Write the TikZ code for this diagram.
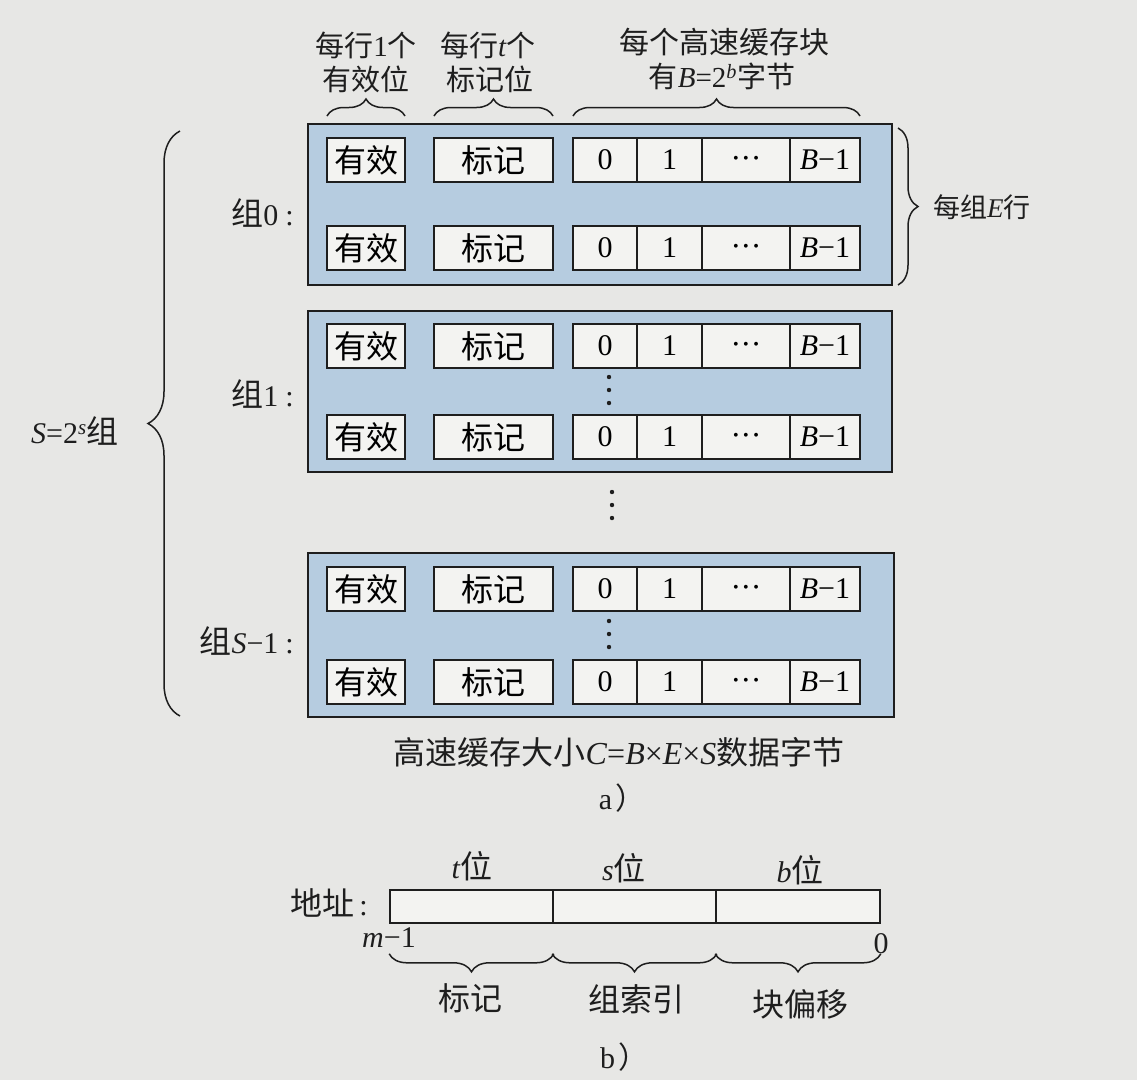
\documentclass[tikz,border=0pt]{standalone}
\usepackage{fontspec}
\setmainfont{Liberation Serif}
\newfontfamily\cjk{Noto Sans CJK SC}
\usetikzlibrary{decorations.pathreplacing,calc}
\definecolor{paper}{HTML}{E7E7E5}
\definecolor{setblue}{HTML}{B6CCE0}
\definecolor{cellfill}{HTML}{F3F3F1}
\definecolor{ink}{HTML}{1E1E1E}
\newcommand\fs{\fontsize{30}{36}\selectfont}
\newcommand\fl{\fontsize{29}{34}\selectfont}
\newcommand\fc{\fontsize{32}{36}\selectfont\cjk}
\tikzset{
  cell/.style={draw=ink, fill=cellfill, line width=1.9pt, minimum height=44pt, inner sep=0pt, font=\fs},
  acell/.style={draw=ink, fill=cellfill, line width=1.6pt, minimum height=33pt, inner sep=0pt},
  setbox/.style={draw=ink, fill=setblue, line width=2.2pt, inner sep=0pt},
  lbl/.style={font=\fs, inner sep=0pt, text=ink},
  toplbl/.style={font=\fl, inner sep=0pt, text=ink},
  brc/.style={decorate, decoration={brace, amplitude=#1}, line width=1.5pt, draw=ink},
}
\newcommand\cacheline[2]{%
  \node[cell, minimum width=78pt]  (#1v)  at (366,#2)   {\fc 有效};
  \node[cell, minimum width=119pt] (#1t)  at (493.5,#2) {\fc 标记};
  \node[cell, minimum width=64pt]  (#1c0) at (605,#2)   {0};
  \node[cell, minimum width=65pt]  (#1c1) at (669.5,#2) {1};
  \node[cell, minimum width=88pt]  (#1cd) at (746,#2)   {\fontsize{16}{16}\selectfont •\hspace{4.5pt}•\hspace{4.5pt}•};
  \node[cell, minimum width=70pt]  (#1cb) at (825,#2)   {\textit{B}−1};
}
\newcommand\threedots[2]{%
  \coordinate (#1) at (#2);
  \foreach \d in {-13,0,13} \fill[ink] ($(#1)+(0,\d)$) circle (2.2pt);
}
\begin{document}
\begin{tikzpicture}[x=1pt,y=-1pt]
\useasboundingbox (0,0) rectangle (1137,1080);
\fill[paper] (0,0) rectangle (1137,1080);

% top labels
\node[toplbl] (l1a) at (366,45) {{\cjk 每行}1{\cjk 个}};
\node[toplbl] (l1b) at (366,79) {\cjk 有效位};
\node[toplbl] (l2a) at (488,45) {{\cjk 每行}\textit{t}{\cjk 个}};
\node[toplbl] (l2b) at (490,79) {\cjk 标记位};
\node[toplbl, font=\fontsize{30}{34}\selectfont] (l3a) at (724,42) {\cjk 每个高速缓存块};
\node[toplbl] (l3b) at (722,76) {{\cjk 有}\textit{B}=2\textsuperscript{\textit{b}}{\cjk 字节}};
\draw[brc=17] (327,116) -- (405,116);
\draw[brc=17] (434,116) -- (553,116);
\draw[brc=17] (573,116) -- (860,116);

% sets
\node[setbox, minimum width=584pt, minimum height=161pt] (set0) at (600,204.5) {};
\node[setbox, minimum width=584pt, minimum height=161pt] (set1) at (600,391.5) {};
\node[setbox, minimum width=586pt, minimum height=164pt] (set2) at (601,635) {};

\cacheline{a}{160}
\cacheline{b}{248}
\cacheline{c}{346}
\cacheline{d}{437}
\cacheline{e}{589}
\cacheline{f}{682}

\threedots{dots1}{609,390}
\threedots{dotsm}{612,505}
\threedots{dots2}{609,634}

% set labels
\node[lbl, anchor=east] (g0) at (294,213) {{\fc 组}0\hspace{7pt}:};
\node[lbl, anchor=east] (g1) at (294,394) {{\fc 组}1\hspace{7pt}:};
\node[lbl, anchor=east] (g2) at (294,641) {{\fc 组}\textit{S}−1\hspace{7pt}:};

% left brace
\draw[brc=32] (180,716) -- (180,131);
\node[lbl] (S) at (75,431) {\textit{S}=2\textsuperscript{\textit{s}}{\fc 组}};

% right brace
\draw[brc=20] (898,128) -- (898,285);
\node[lbl, font=\fontsize{27}{32}\selectfont, anchor=west] (E) at (933,207) {{\cjk 每组}\textit{E}{\cjk 行}};

% caption a
\node[lbl, font=\fontsize{32}{36}\selectfont] (cap) at (619,752) {{\cjk 高速缓存大小}\textit{C}=\textit{B}×\textit{E}×\textit{S}{\cjk 数据字节}};
\node[lbl] (capa) at (622,798) {a\hspace{3pt}{\cjk ）}};

% address
\node[acell, minimum width=163pt] (at) at (471.5,906.5) {};
\node[acell, minimum width=163pt] (as) at (634.5,906.5) {};
\node[acell, minimum width=164pt] (ab) at (798,906.5) {};
\node[lbl] (tl) at (472,866) {\textit{t}{\fc 位}};
\node[lbl] (sl) at (624,868) {\textit{s}{\fc 位}};
\node[lbl] (bl) at (800,870) {\textit{b}{\fc 位}};
\node[lbl, anchor=east] (addr) at (368,903) {{\fc 地址}\hspace{5pt}:};
\node[lbl] (m1) at (389,938) {\textit{m}−1};
\node[lbl] (zero) at (881,944) {0};
\draw[brc=18] ([yshift=-30pt]at.south east) -- ([yshift=-30pt]at.south west);
\draw[brc=18] ([yshift=-30pt]as.south east) -- ([yshift=-30pt]as.south west);
\draw[brc=18] ([yshift=-30pt]ab.south east) -- ([yshift=-30pt]ab.south west);
\node[lbl] (tagl) at (470,998) {\fc 标记};
\node[lbl] (idxl) at (636,999) {\fc 组索引};
\node[lbl] (offl) at (800,1004) {\fc 块偏移};
\node[lbl] (capb) at (624,1057) {b\hspace{3pt}{\cjk ）}};
\end{tikzpicture}
\end{document}
